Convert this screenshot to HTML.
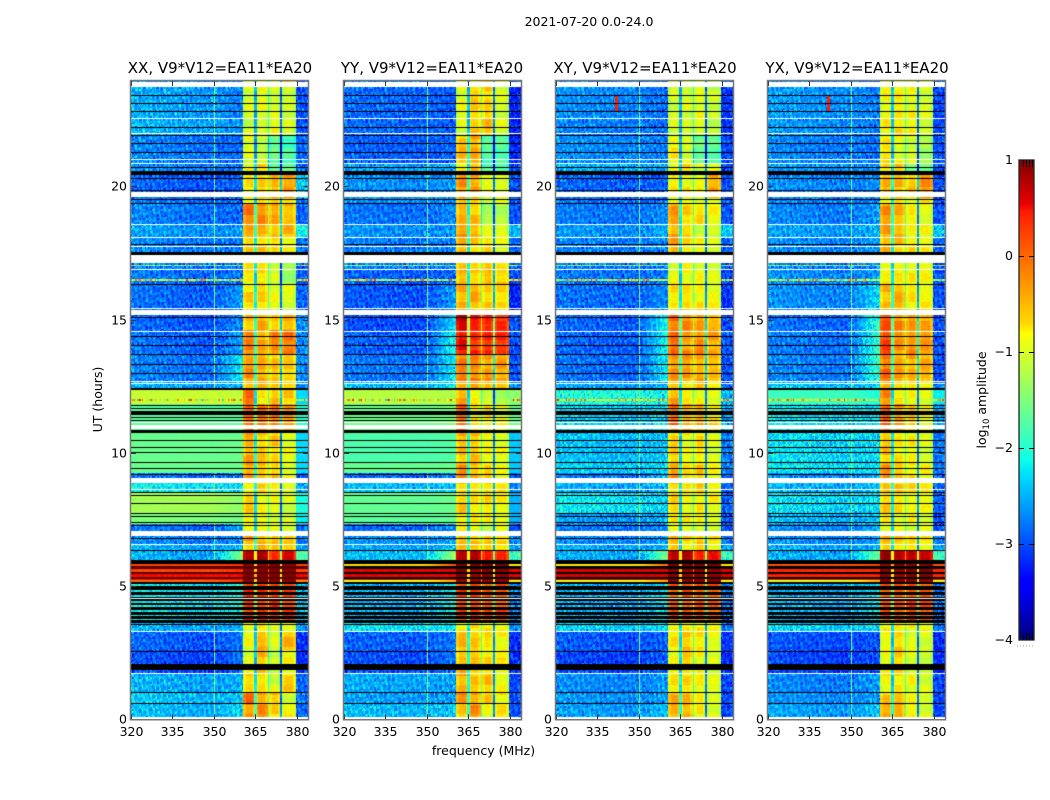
<!DOCTYPE html>
<html lang="en">
<head>
<meta charset="utf-8">
<title>2021-07-20 dynamic spectra</title>
<style>
html,body{margin:0;padding:0;background:#fff;}
#figure{position:relative;width:1050px;height:800px;overflow:hidden;background:#fff;}
#figure canvas{position:absolute;top:81px;display:block;}
#figure svg{position:absolute;left:0;top:0;}
text{font-family:"DejaVu Sans","Liberation Sans",sans-serif;fill:#000;}
</style>
</head>
<body>
<div id="figure">
<canvas id="cv0" width="177" height="638" style="left:131px"></canvas>
<canvas id="cv1" width="177" height="638" style="left:344px"></canvas>
<canvas id="cv2" width="177" height="638" style="left:556px"></canvas>
<canvas id="cv3" width="177" height="638" style="left:768px"></canvas>
<svg id="overlay" width="1050" height="800" viewBox="0 0 1050 800">
<defs>
<linearGradient id="jet" x1="0" y1="1" x2="0" y2="0">
<stop offset="0" stop-color="#000080"/>
<stop offset="0.11" stop-color="#0000ff"/>
<stop offset="0.125" stop-color="#0000ff"/>
<stop offset="0.34" stop-color="#00dbff"/>
<stop offset="0.35" stop-color="#00e5f7"/>
<stop offset="0.375" stop-color="#0dffea"/>
<stop offset="0.64" stop-color="#ffff00"/>
<stop offset="0.65" stop-color="#ffea00"/>
<stop offset="0.66" stop-color="#ffd900"/>
<stop offset="0.89" stop-color="#ff1e00"/>
<stop offset="0.91" stop-color="#e80000"/>
<stop offset="1" stop-color="#800000"/>
</linearGradient>
</defs>
<text x="589" y="26" font-size="12.5" text-anchor="middle">2021-07-20 0.0-24.0</text>
<text x="220" y="73" font-size="15" text-anchor="middle">XX, V9*V12=EA11*EA20</text>
<text x="432" y="73" font-size="15" text-anchor="middle">YY, V9*V12=EA11*EA20</text>
<text x="645" y="73" font-size="15" text-anchor="middle">XY, V9*V12=EA11*EA20</text>
<text x="857" y="73" font-size="15" text-anchor="middle">YX, V9*V12=EA11*EA20</text>
<text x="483.5" y="755" font-size="12.5" text-anchor="middle">frequency (MHz)</text>
<text transform="translate(102,399.5) rotate(-90)" font-size="12.5" text-anchor="middle">UT (hours)</text>
<rect x="1019" y="160" width="15" height="480" fill="url(#jet)"/>
<rect x="1019" y="160" width="15" height="480" fill="none" stroke="#222" stroke-width="1.3"/>
<line x1="1017" y1="646" x2="1035" y2="646" stroke="#999" stroke-width="1" stroke-dasharray="1 2"/>
<text transform="translate(986,400) rotate(-90)" font-size="12.5" text-anchor="middle">log<tspan font-size="8.5" dy="3">10</tspan><tspan dy="-3"> amplitude</tspan></text>
</svg>
</div>
<script>
// ---------- data: axes ----------
var xTickLabels = [320, 335, 350, 365, 380];
var yTickLabels = [0, 5, 10, 15, 20];
var colorTickLabels = [1, 0, -1, -2, -3, -4];
var colorMinorTicks = [0.02, 0.04, 0.06, 0.08];

// ---------- data: passbands in MHz ----------
var passbandStart = [360.5, 365.3, 370.0, 374.7];
var passbandEnd = [364.7, 369.4, 374.0, 379.5];
var gapDrop = [1.6, 1.0, 1.9];

// ---------- data: time segments (UT at top of each level row) ----------
var segmentTops = [23.95, 23.72, 22.55, 21.92, 20.80, 20.42, 19.54, 19.37, 18.57, 18.08, 17.14, 16.88, 16.33, 15.16, 14.58, 13.69, 12.69, 12.35, 11.80, 10.73, 9.66, 9.28, 8.88, 8.52, 7.75, 7.30, 6.88, 6.56, 6.30, 5.81, 5.64, 5.44, 5.25, 5.13, 3.59, 3.32, 2.57, 1.72, 1.03, 0.60];

// each row: off-band, shoulder at 360 MHz, band 1-4, above-band (log10 amplitude)
var levelsXX = [
[-2.8,-2.8,-1,-1,-1,-.5,-3],
[-2.65,-2.8,-.95,-.85,-.95,-1,-3],[-2.6,-2.7,-1,-1,-.75,-1,-3],[-2.85,-2.9,-.9,-1.05,-1.6,-1.85,-2.9],[-2.8,-2.8,-.75,-.6,-1.6,-1.6,-2.9],
[-3,-2.9,-.7,-.55,-.4,-.25,-2.4],[-2.9,-2.9,-.8,-.7,-.7,-.8,-2.8],[-2.85,-2.9,-.1,-.2,-.35,-.45,-2.9],[-2.7,-2.6,-.35,-.35,-.4,-.45,-2.2],
[-2.8,-2.8,-.55,-.55,-.65,-.75,-2.8],[-2.8,-2.8,-.7,-.7,-1,-1.3,-2.9],[-2.9,-2.8,-.7,-.6,-1,-1.3,-2.9],[-2.95,-2.6,-.6,-.6,-.8,-.9,-2.9],
[-3,-2.7,-.45,-.4,-.5,-.45,-2.7],[-2.95,-2.6,-.15,-.3,-.15,-.05,-2.7],[-2.85,-2.2,-.25,-.35,-.5,-.55,-2.7],[-2.6,-2.5,-.35,-.45,-.55,-.55,-2.7],
[-1.05,-1.1,0,-.65,-.4,-.55,-2.3],[-1.7,-1.7,.05,-.05,-.05,-.25,-2],[-1.62,-1.6,-.35,-.5,-.55,-.85,-2.3],[-1.62,-1.6,-.35,-.45,-.55,-.85,-2.3],
[-2.9,-2.8,-.25,-.45,-.45,-.85,-2.9],[-2.3,-2.3,-.65,-.65,-.65,-.85,-2.6],[-1.25,-1.4,-.55,-.75,-.85,-.95,-2.1],[-1.5,-1.6,-.65,-.75,-.85,-.95,-2.2],
[-2.9,-2.5,-.75,-.85,-.95,-1.05,-2.8],[-2.8,-2.7,-.35,-.45,-.45,-.45,-2.8],[-2.6,-2.5,-.5,-.45,-.55,-.55,-2.6],[-2.6,-1.4,.75,.85,.5,.5,-1.8],
[.2,.3,1,1,1,1,.2],[.2,.3,1,1,1,1,.2],[.5,.5,1,1,1,1,.5],[0,.3,1,1,1,1,-.2],
[-2.3,-2,.3,.3,.3,.2,-2.4],[-2.6,-2.5,-.9,-.7,-.9,-.8,-2.6],[-3,-2.8,-.8,-.4,-.9,-.45,-3.2],[-3.1,-2.8,-.85,-.45,-1.05,-.75,-3.2],
[-2.6,-2.5,-.55,-.65,-.95,-.55,-2.9],[-2.5,-2.4,-.05,-.3,-.5,-.95,-2.8],[-2.55,-2.3,-.25,-.2,-.55,-.75,-2.9]
];
var levelsYY = [
[-2.8,-2.8,-.8,-.6,-.6,-.8,-3],
[-2.9,-2.95,-.85,-.55,-.55,-.95,-3.25],[-2.9,-2.95,-.9,-.55,-.4,-.95,-3.25],[-2.95,-2.9,-.45,-.35,-1.7,-1.7,-3.25],[-2.6,-2.5,-.65,-.45,-1.7,-1.8,-3],
[-2.7,-2.6,-.25,-.3,-.8,-.85,-3],[-2.7,-2.7,-.55,-.55,-.85,-.95,-3],[-2.85,-2.7,-.4,-.5,-1.25,-1.15,-3],[-2.7,-2.6,-.25,-.45,-.75,-.85,-2.5],
[-2.8,-2.7,-.45,-.55,-.65,-.85,-2.9],[-2.8,-2.8,-.65,-.7,-.55,-.65,-3],[-2.95,-2.9,-.45,-.55,-.45,-.55,-3],[-3,-2.6,-.35,-.4,-.55,-.65,-3.25],
[-3.05,-2.3,.7,.45,.45,.35,-3],[-2.95,-2.1,.45,.3,.3,.3,-3],[-2.85,-2.2,-.1,-.15,-.25,-.35,-3],[-2.5,-2.3,-.45,-.45,-.55,-.55,-2.7],
[-1.15,-1.2,-.35,-.75,-.95,-1.25,-1.4],[-1.6,-1.5,.05,-.65,-.65,-.85,-1.6],[-1.8,-1.75,-.45,-.5,-.75,-.85,-2.4],[-1.65,-1.6,-.2,-.45,-.65,-.85,-2.4],
[-2.9,-2.7,-.15,-.35,-.45,-.75,-2.9],[-2.5,-2.4,-.55,-.65,-.55,-.65,-2.7],[-1.65,-1.6,-.55,-.65,-.65,-.75,-2.5],[-1.7,-1.65,-.65,-.75,-.75,-.85,-2.5],
[-2.9,-2.7,-.75,-.85,-.95,-.95,-3],[-2.7,-2.6,-.45,-.5,-.55,-.55,-2.7],[-2.6,-2.4,-.5,-.65,-.65,-.75,-2.6],[-2.5,-1.3,.85,.85,.5,.4,-1.9],
[-.6,.2,1,1,1,1,-.7],[.55,.55,1,1,1,1,.55],[.55,.55,1,1,1,1,.55],[-.85,-.3,1,1,1,1,-.8],
[-2.55,-2.1,.2,.2,.1,.1,-2.7],[-2.3,-2.2,-.7,-.7,-.7,-.8,-2.7],[-2.95,-2.8,-.45,-.5,-.65,-.75,-3.2],[-3.05,-2.8,-.45,-.5,-.65,-.75,-3.2],
[-2.6,-2.6,-.4,-.55,-.45,-.85,-3.05],[-2.65,-2.6,-.15,-.3,-.45,-.75,-3.05],[-2.5,-2.4,-.5,-.25,-.85,-.65,-3]
];
var levelsXY = [
[-2.8,-2.8,-.9,-.9,-.9,-1,-3],
[-2.75,-2.9,-.95,-.95,-.85,-1.05,-3.15],[-2.8,-2.9,-.95,-.95,-.85,-1.05,-3.15],[-2.75,-2.8,-.75,-.95,-1.6,-1.7,-3.05],[-2.55,-2.6,-.8,-.65,-.95,-.9,-3.05],
[-2.95,-2.9,-.7,-.75,-.8,-.35,-3],[-2.9,-2.8,-.75,-.75,-.85,-.85,-3],[-2.85,-2.7,-.3,-.55,-.65,-.75,-3],[-2.7,-2.5,-.35,-.65,-.95,-1.05,-2.4],
[-2.8,-2.7,-.35,-.65,-.75,-.85,-2.9],[-2.85,-2.8,-.85,-.85,-.85,-.95,-3.05],[-2.85,-2.8,-.8,-.8,-.8,-.9,-3.05],[-2.9,-2.7,-.65,-.65,-.7,-.8,-3.15],
[-2.95,-2.1,-.05,-.2,-.3,-.4,-3.05],[-2.95,-2.1,0,-.25,-.15,-.35,-3],[-2.9,-2.2,-.25,-.3,-.35,-.45,-3],[-2.65,-2.5,-.5,-.55,-.55,-.65,-2.9],
[-2.1,-2.2,-.35,-.75,-.75,-.95,-2.5],[-2.4,-2.3,0,-.35,-.35,-.65,-2.6],[-2.5,-2.4,-.55,-.8,-.65,-.9,-2.8],[-2.4,-2.3,-.3,-.65,-.55,-.8,-2.8],
[-2.85,-2.5,-.25,-.55,-.55,-.85,-2.9],[-2.6,-2.5,-.55,-.75,-.55,-.75,-2.9],[-2.3,-2.4,-.55,-.75,-.65,-.8,-2.9],[-2.65,-2.5,-.7,-.8,-.8,-.95,-3],
[-2.85,-2.7,-.75,-.85,-.85,-.95,-3],[-2.75,-2.6,-.45,-.55,-.55,-.65,-2.8],[-2.6,-2.5,-.5,-.65,-.65,-.75,-2.6],[-2.6,-1.5,.85,.8,.5,.4,-1.9],
[-.7,0,1,1,1,1,-.7],[.6,.6,1,1,1,1,.6],[.6,.6,1,1,1,1,.6],[-.85,-.3,1,1,1,1,-.8],
[-2.55,-2.2,.1,.1,.1,.05,-2.8],[-2.4,-2.3,-.7,-.7,-.7,-.8,-2.8],[-3,-2.9,-.7,-.5,-.7,-.85,-3.15],[-3.1,-2.9,-.75,-.55,-.75,-.95,-3.2],
[-2.75,-2.6,-.65,-.65,-.75,-.85,-3.05],[-2.7,-2.6,-.4,-.45,-.65,-.95,-3.05],[-2.65,-2.4,-.35,-.35,-.75,-.9,-3.05]
];
var levelsYX = [
[-2.8,-2.8,-.9,-.8,-.9,-1,-3],
[-2.7,-2.8,-.8,-.7,-.8,-.95,-3.05],[-2.7,-2.8,-.75,-.65,-.75,-.95,-3.05],[-2.8,-2.85,-.65,-.85,-.95,-1.25,-3],[-2.7,-2.7,-.6,-.55,-1.45,-1.55,-3],
[-2.75,-2.7,-.45,-.4,-.5,-.2,-3],[-2.8,-2.7,-.65,-.65,-.75,-.75,-3],[-2.8,-2.6,-.25,-.4,-.7,-.85,-3],[-2.65,-2.5,-.3,-.45,-.75,-.85,-2.4],
[-2.75,-2.6,-.35,-.5,-.65,-.75,-2.9],[-2.8,-2.7,-.75,-.75,-.75,-.85,-3.05],[-2.75,-2.6,-.7,-.7,-.75,-.8,-3],[-2.75,-2.3,-.45,-.4,-.65,-.75,-3],
[-2.9,-1.9,.15,-.2,-.3,-.3,-3],[-2.85,-1.9,.2,-.2,-.2,-.25,-3],[-2.8,-1.9,-.05,-.3,-.35,-.4,-3],[-2.5,-2.3,-.35,-.55,-.6,-.65,-2.8],
[-1.9,-2.1,-.15,-.75,-.75,-.95,-2.2],[-2.3,-2.3,.05,-.25,-.5,-.75,-2.6],[-2.35,-2.3,-.5,-.7,-.75,-.95,-2.8],[-2.3,-2.3,-.2,-.55,-.65,-.8,-2.8],
[-2.75,-2.5,-.15,-.35,-.55,-.8,-2.9],[-2.55,-2.4,-.5,-.55,-.6,-.7,-2.9],[-2.35,-2.3,-.55,-.65,-.75,-.8,-2.9],[-2.55,-2.4,-.65,-.75,-.8,-.9,-3],
[-2.75,-2.5,-.75,-.8,-.85,-.95,-3],[-2.75,-2.6,-.45,-.5,-.55,-.65,-2.8],[-2.6,-2.5,-.5,-.65,-.65,-.75,-2.6],[-2.6,-1.6,.85,.8,.7,.55,-1.9],
[.1,.2,1,1,1,1,.1],[.35,.35,1,1,1,1,.35],[.4,.4,1,1,1,1,.4],[-.9,-.3,1,1,1,1,-.8],
[-2.55,-2.2,.1,.1,.2,.1,-2.8],[-2.4,-2.3,-.7,-.75,-.75,-.85,-2.8],[-3.05,-3,-.8,-.55,-.85,-.95,-3.2],[-3.1,-3,-.8,-.6,-.9,-1.05,-3.2],
[-2.8,-2.6,-.75,-.65,-.8,-.95,-3.05],[-2.75,-2.6,-.55,-.55,-.75,-.95,-3.05],[-2.65,-2.4,-.35,-.3,-.75,-.9,-3.05]
];

// ---------- data: UT ranges with no data (white) and flagged (black) ----------
var whiteBands = [[23.91,23.72],[19.80,19.59],[17.42,17.17],[15.36,15.16],[11.04,10.88],[9.06,8.88],[7.02,6.88],[0.08,-0.1]];
var whiteLines = [22.55,21.99,21.01,20.87,18.57,18.08,17.77,17.14,16.88,15.44,14.58,12.69,12.62,11.14,8.63,7.06,6.56,4.54,3.32,1.72];
var blackBands = [[20.58,20.42],[17.53,17.43],[12.42,12.35],[11.54,11.42],[10.85,10.73],[5.98,5.81],[5.75,5.64],[5.54,5.44],[5.35,5.25],[5.16,5.08],[5.00,4.85],[4.77,4.66],[4.59,4.55],[4.51,4.45],[4.36,4.29],[4.21,4.10],[4.02,3.93],[3.86,3.76],[3.71,3.63],[3.59,3.54],[2.06,1.85]];
var blackLines = [23.41,23.11,22.82,22.21,21.91,21.61,21.30,20.71,20.30,19.86,19.54,19.37,17.83,16.33,15.08,14.37,14.03,13.69,13.33,13.00,11.79,11.69,11.58,11.33,11.23,10.48,10.20,10.04,9.66,9.42,9.20,8.52,8.41,8.10,7.75,7.64,7.39,7.29,6.81,6.35,2.57,1.03,0.60];
// in the XX panel the strong-RFI stripes read as deep red rather than black
var xxDeepRedBands = [[5.75,5.64],[5.54,5.44],[5.35,5.25]];

// ---------- data: narrow-band features ----------
var rfiUT = [17.0, 16.5, 11.98];
var rfiLevel = [-1.3, -1.0, -0.9];
var birdieMHz = [350.2];
var birdieLevel = [-1.5];
var hotPanel = [2, 3];
var hotMHz = [342, 342];
var hotTop = [23.4, 23.4];
var hotBottom = [22.8, 22.8];
var hotLevel = [0.4, 0.4];

// ---------- data: measured speckle read as short sample runs ----------
var speckleA = [.6,-.8,.2,.9,-.4,-.9,.5,.1,-.6,.8,-.2,.4,-1,.7,.3,-.5,.9,-.7,.1,-.3,.6,-.9,.4,.8,-.1,-.6,.2,1,-.8,.3,-.4,.7,-.2,-.9,.5,.6,-.7,.1,.9,-.5,-.3];
var speckleB = [-.3,.7,-.9,.4,.1,.8,-.6,-.2,.9,-.8,.5,-.4,.2,.6,-1,.3,-.1,.7,-.5,.9,-.7,.2,.4,-.3,.8,-.9,.1,.6,-.4,-.6,1,-.2,.5,-.8,.3,.7,-.5];
var rowDrift = [.08,-.05,.12,-.1,.02,.14,-.12,-.03,.09,-.08,.05,-.14,.1,.01,-.06];
// slow in-band brightening over time, one entry per ~12 px block
var bandDrift = [.07,-.08,.12,.01,-.11,.15,-.04,.09,-.13,.03,.11,-.07,-.01,.14,-.1,.06,-.03];
var lowFreqBoost = [.14, .05, .08, .1];

var panelLevels = [levelsXX, levelsYY, levelsXY, levelsYX];
var panelLeft = [131, 344, 556, 768];

// ---------- scales ----------
var AX_W = 177, AX_H = 638.25, PX_PER_HOUR = 26.65, F0 = 320, F_SPAN = 64;
function xScale(f){ return (f - F0) / F_SPAN * AX_W; }
function yScale(ut){ return AX_H - ut * PX_PER_HOUR; }
function colorScale(v){ return 160 + (1 - v) * 96; }

function lerp(points, t){
  for (var i = 1; i < points.length; i++) {
    if (t <= points[i][0]) {
      var a = points[i-1], b = points[i];
      return a[1] + (b[1]-a[1]) * (t-a[0]) / (b[0]-a[0]);
    }
  }
  return points[points.length-1][1];
}
var JET_R = [[0,0],[.35,0],[.66,1],[.89,1],[1,.5]];
var JET_G = [[0,0],[.125,0],[.375,1],[.64,1],[.91,0],[1,0]];
var JET_B = [[0,.5],[.11,1],[.34,1],[.65,0],[1,0]];
var lut = [];
for (var li = 0; li <= 255; li++) {
  var tt = li / 255;
  lut.push('rgb(' + Math.round(lerp(JET_R,tt)*255) + ',' + Math.round(lerp(JET_G,tt)*255) + ',' + Math.round(lerp(JET_B,tt)*255) + ')');
}
function jet(v){
  var t = Math.max(0, Math.min(1, (v + 4) / 5));
  return lut[Math.round(t * 255)];
}

function segmentIndex(ut){
  for (var i = segmentTops.length - 1; i >= 0; i--) {
    if (ut <= segmentTops[i] && (i === segmentTops.length - 1 || ut > segmentTops[i+1])) return i;
  }
  return 0;
}

function baseLevel(row, f){
  if (f < 350) return row[0];
  if (f < passbandStart[0]) return row[0] + (row[1] - row[0]) * (f - 350) / (passbandStart[0] - 350);
  for (var b = 0; b < 4; b++) {
    if (f >= passbandStart[b] && f < passbandEnd[b]) {
      var edge = Math.min(f - passbandStart[b], passbandEnd[b] - f);
      return row[2 + b] - (edge < 0.8 && row[2+b] < 0.9 ? 0.18 : 0);
    }
    if (b < 3 && f >= passbandEnd[b] && f < passbandStart[b+1]) return Math.min(row[2+b], row[3+b]) - gapDrop[b];
  }
  return row[6];
}

function drawPanel(p){
  var ctx = document.getElementById('cv' + p).getContext('2d');
  var levels = panelLevels[p];
  var DT = 0.06, DF = 0.5;
  var nRows = Math.round((segmentTops[0] - 0.0) / DT);
  var nCh = Math.round(F_SPAN / DF);
  for (var r = 0; r < nRows; r++) {
    var utTop = segmentTops[0] - r * DT, utBot = utTop - DT, utMid = utTop - DT / 2;
    var row = levels[segmentIndex(utMid)];
    var yT = Math.round(yScale(utTop)), yB = Math.round(yScale(utBot));
    var amp = row[0] > -2 ? 0.05 : 0.34;
    var rfi = null;
    for (var q = 0; q < rfiUT.length; q++) { if (Math.abs(utMid - rfiUT[q]) <= DT * 0.5) rfi = rfiLevel[q]; }
    var drift = rowDrift[(r + p * 4) % rowDrift.length];
    for (var c = 0; c < nCh; c++) {
      var f = F0 + (c + 0.5) * DF;
      var v = baseLevel(row, f);
      var inBand = f >= passbandStart[0] && f < passbandEnd[3];
      var n = (speckleA[(c + r * 17 + p * 11) % speckleA.length] + speckleB[(c * 5 + r * 3 + p * 7) % speckleB.length]) / 2;
      if (inBand) {
        var block = Math.floor(r / 6) + Math.floor((f - 360) / 4.7) * 5 + p * 3;
        v += n * 0.1 + drift * 0.25 + bandDrift[block % bandDrift.length];
      } else {
        v += n * amp * 1.6 + drift * (amp > 0.1 ? 0.35 : 0.2);
        if (f < 345 && amp > 0.1) v += lowFreqBoost[p] * (345 - f) / 25;
        if (rfi !== null) v = rfi + n * 1.5;
        for (var k = 0; k < birdieMHz.length; k++) {
          if (Math.abs(f - birdieMHz[k]) < DF * 0.6 && row[0] < -1.9) v = Math.max(v, birdieLevel[k]);
        }
      }
      for (var h = 0; h < hotPanel.length; h++) {
        if (hotPanel[h] === p && Math.abs(f - hotMHz[h]) < DF * 0.6 && utMid < hotTop[h] && utMid > hotBottom[h]) v = hotLevel[h];
      }
      ctx.fillStyle = jet(v);
      var xL = Math.round(xScale(f - DF / 2)), xR = Math.round(xScale(f + DF / 2));
      ctx.fillRect(xL, yT, xR - xL, yB - yT);
    }
  }
  function band(list, color){
    ctx.fillStyle = color;
    list.forEach(function(b){
      var a = Math.round(yScale(b[0])), e = Math.round(yScale(b[1]));
      ctx.fillRect(0, a, AX_W, Math.max(1, e - a));
    });
  }
  function lines(list, color){
    ctx.fillStyle = color;
    list.forEach(function(u){ ctx.fillRect(0, Math.round(yScale(u)), AX_W, 1); });
  }
  band(blackBands, '#000');
  lines(blackLines, '#000');
  if (p === 0) band(xxDeepRedBands, '#5a0000');
  band(whiteBands, '#fff');
  lines(whiteLines, '#fff');
}
for (var pi = 0; pi < 4; pi++) drawPanel(pi);

// ---------- axes ----------
var svg = document.getElementById('overlay');
var NS = 'http://www.w3.org/2000/svg';
function tickLine(x1, y1, x2, y2, color){
  var l = document.createElementNS(NS, 'line');
  l.setAttribute('x1', x1);
  l.setAttribute('y1', y1);
  l.setAttribute('x2', x2);
  l.setAttribute('y2', y2);
  l.setAttribute('stroke', color);
  l.setAttribute('stroke-width', '1');
  
  
  svg.appendChild(l);
}
function tickText(x, y, s, anchor){
  var t = document.createElementNS(NS, 'text');
  t.setAttribute('x', x);
  t.setAttribute('y', y);
  t.setAttribute('font-size', '12.5');
  t.setAttribute('text-anchor', anchor);
  t.textContent = s;
  
  
  svg.appendChild(t);
}
panelLeft.forEach(function(left){
  var top = 81, bottom = 719.25;
  xTickLabels.forEach(function(lab){
    var x = Math.round(left + xScale(lab)) + 0.5;
    tickLine(x, bottom, x, bottom - 5, '#333');
    tickLine(x, top, x, top + 5, '#333');
    tickText(x, 736, String(lab), 'middle');
  });
  yTickLabels.forEach(function(lab){
    var y = Math.round(top + yScale(lab)) + 0.5;
    tickLine(left, y, left + 5, y, '#333');
    tickLine(left + AX_W, y, left + AX_W - 5, y, '#333');
    tickText(left - 4, y + 4, String(lab), 'end');
  });
  var fr = document.createElementNS(NS, 'rect');
  fr.setAttribute('x', left - 0.5);
  fr.setAttribute('y', top - 0.5);
  fr.setAttribute('width', AX_W + 1);
  fr.setAttribute('height', bottom - top + 1);
  fr.setAttribute('fill', 'none');
  fr.setAttribute('stroke', '#777');
  fr.setAttribute('stroke-width', '1.5');
  
  
  svg.appendChild(fr);
});
colorTickLabels.forEach(function(v){
  var y = colorScale(v);
  var s = v < 0 ? '\u2212' + Math.abs(v) : String(v);
  tickText(1013, y + 4, s, 'end');
  if (v > -4 && v < 1) {
    tickLine(1019, y + 0.5, 1024, y + 0.5, '#000');
    tickLine(1029, y + 0.5, 1034, y + 0.5, '#000');
  }
});
colorMinorTicks.forEach(function(frac){
  var x = Math.round(1019 + 15 * (frac * 10 + 0.05)) + 0.5;
  tickLine(x, 160, x, 167, '#000');
  tickLine(x, 633, x, 640, '#000');
});
</script>
</body>
</html>
